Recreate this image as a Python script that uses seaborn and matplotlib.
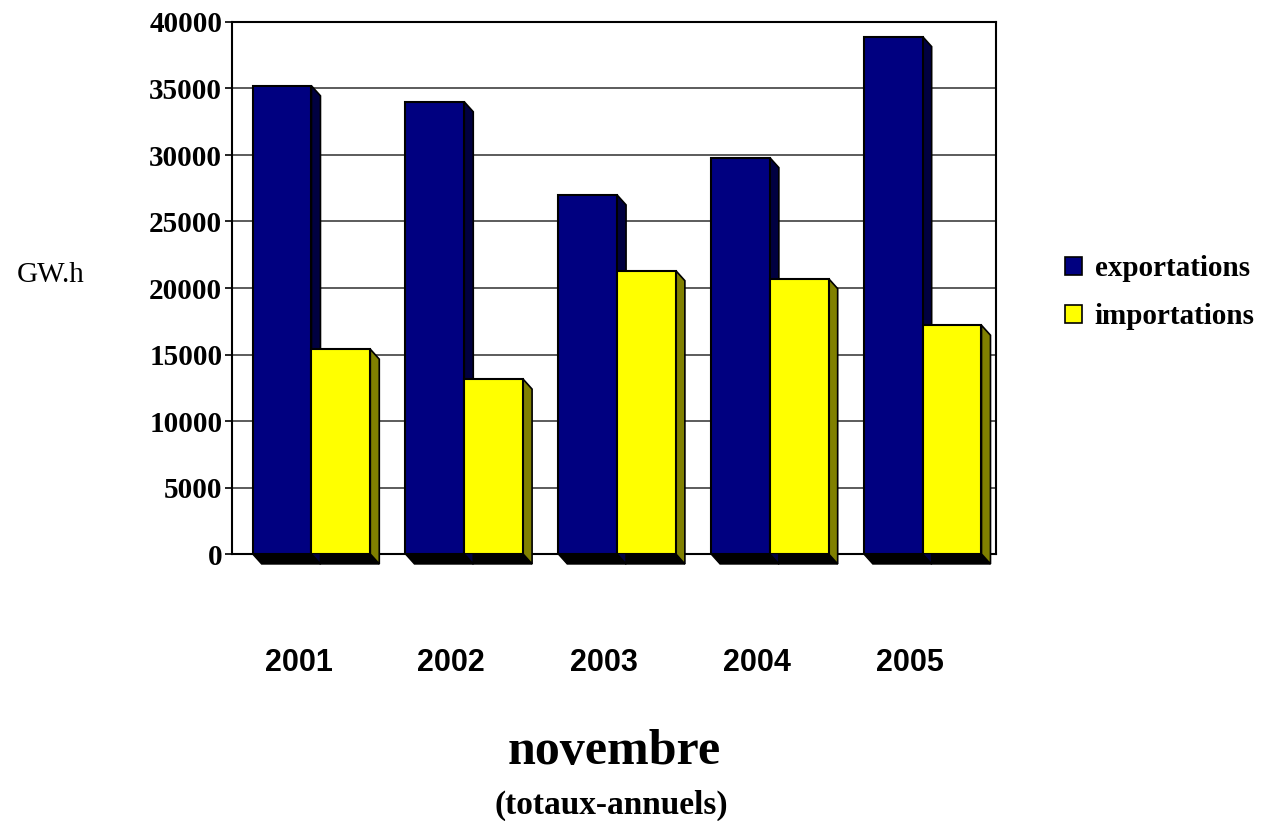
import numpy as np
import pandas as pd
import matplotlib
matplotlib.use("Agg")
import matplotlib.pyplot as plt
import seaborn as sns
from matplotlib.patches import Polygon, Patch
from matplotlib.transforms import ScaledTranslation

# values (GW.h)
years = ["2001", "2002", "2003", "2004", "2005"]
exportations = [35200, 34000, 27000, 29800, 38900]
importations = [15400, 13150, 21300, 20700, 17200]
series = ["exportations", "importations"]
y_ticks = [0, 5000, 10000, 15000, 20000, 25000, 30000, 35000, 40000]

front_colors = ["#000080", "#FFFF00"]
side_colors = ["#000040", "#808000"]

df = pd.DataFrame({
    "annee": years * 2,
    "serie": [series[0]] * len(years) + [series[1]] * len(years),
    "GWh": exportations + importations,
})

sns.set_style("white")
plt.rcParams["font.family"] = ["Liberation Serif", "DejaVu Serif"]
plt.rcParams["text.color"] = "black"
plt.rcParams["xtick.color"] = "black"
plt.rcParams["ytick.color"] = "black"

fig = plt.figure(figsize=(12.62, 8.21), dpi=100)
ax = fig.add_axes([232 / 1262, 1 - 554 / 821, 764 / 1262, 532 / 821])

sns.barplot(data=df, x="annee", y="GWh", hue="serie", hue_order=series,
            palette=front_colors, saturation=1, width=0.77,
            edgecolor="black", linewidth=1.5, legend=False, ax=ax)

ax.set_xlim(-0.52, 4.48)
ax.set_ylim(0, 40000)
ax.set_xlabel("")
ax.set_ylabel("")
ax.set_axisbelow(True)
ax.yaxis.grid(True, color="#404040", linewidth=1.2)
ax.xaxis.grid(False)
for s in ax.spines.values():
    s.set_color("black")
    s.set_linewidth(1.5)

ax.set_yticks(y_ticks, labels=[str(v) for v in y_ticks], fontsize=21, fontweight="bold")
ax.tick_params(axis="y", direction="out", length=5, width=1.2, pad=2, left=True,
               colors="black")
ax.set_xticks(range(len(years)), labels=years, fontsize=22, fontweight="bold",
              fontfamily="Liberation Sans")
ax.tick_params(axis="x", length=0, pad=68, colors="black")
for lab in ax.get_xticklabels():
    lab.set_transform(lab.get_transform() + ScaledTranslation(-13 / 100, 0, fig.dpi_scale_trans))

# fake 3D: side faces and a dark floor, offset in pixels
dx, dy = 9, -10
inv = ax.transData.inverted()
bars = [p for p in ax.patches if p.get_width() > 0]
n = len(years)
for i, p in enumerate(bars):
    k = i // n
    x0 = p.get_x()
    x1 = x0 + p.get_width()
    h = p.get_height()
    bl, br, tr = ax.transData.transform([(x0, 0), (x1, 0), (x1, h)])
    off = np.array([dx, dy])
    side = inv.transform([tr, tr + off, br + off, br])
    floor = inv.transform([bl, bl + off, br + off, br])
    p.set_zorder(3 + k * 0.4)
    ax.add_patch(Polygon(side, closed=True, facecolor=side_colors[k], edgecolor="black",
                         linewidth=1.2, zorder=2.8 + k * 0.4, clip_on=False))
    ax.add_patch(Polygon(floor, closed=True, facecolor="black", edgecolor="black",
                         linewidth=1.0, zorder=2.6, clip_on=False))

handles = [Patch(facecolor=c, edgecolor="black", linewidth=1.2, label=s)
           for c, s in zip(front_colors, series)]
fig.legend(handles=handles, loc="center left", bbox_to_anchor=(1065 / 1262, 1 - 293 / 821),
           frameon=False, prop={"weight": "bold", "size": 21},
           handlelength=0.57, handleheight=0.57, handletextpad=0.45,
           labelspacing=0.72, borderpad=0, borderaxespad=0)

fig.text(51 / 1262, 1 - 275 / 821, "GW.h", ha="center", va="center", fontsize=21)
fig.text(614 / 1262, 1 - 752 / 821, "novembre", ha="center", va="center",
         fontsize=36, fontweight="bold")
fig.text(611 / 1262, 1 - 805 / 821, "(totaux-annuels)", ha="center", va="center",
         fontsize=24, fontweight="bold")

fig.savefig("out.png", dpi=100)
